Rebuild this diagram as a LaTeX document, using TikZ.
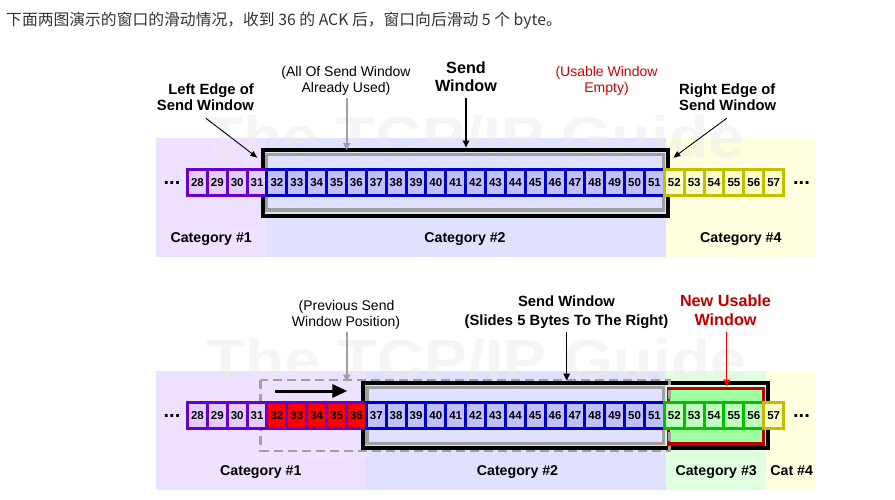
\documentclass[tikz,border=0pt]{standalone}
\usepackage{fontspec}
\setmainfont{Liberation Sans}
\newfontfamily\cjkfont{Noto Sans CJK SC}
\usetikzlibrary{arrows.meta}
\definecolor{purB}{HTML}{6600CC}
\definecolor{purF}{HTML}{E3CCFF}
\definecolor{bluB}{HTML}{0000C8}
\definecolor{bluF}{HTML}{C0C0FF}
\definecolor{yelB}{HTML}{C0C000}
\definecolor{yelF}{HTML}{FFFFCC}
\definecolor{grnB}{HTML}{00C000}
\definecolor{grnF}{HTML}{C0FFC0}
\definecolor{grnW}{HTML}{A0FFA0}
\definecolor{redF}{HTML}{FF0000}
\definecolor{purBg}{HTML}{EEE0FF}
\definecolor{bluBg}{HTML}{E0E0FF}
\definecolor{yelBg}{HTML}{FFFFE0}
\definecolor{grnBg}{HTML}{E0FFE0}
\definecolor{winR}{HTML}{C00000}
\definecolor{noteR}{HTML}{CC0000}
\definecolor{grayL}{HTML}{A0A0A0}
\definecolor{txtC}{HTML}{333333}
\begin{document}
\begin{tikzpicture}[x=1pt,y=-1pt,
  cell/.style={draw, line width=3pt, minimum width=19.87pt, minimum height=26pt, inner sep=0pt, text=black, font=\fontsize{11.5}{12}\selectfont\bfseries},
  purc/.style={cell, draw=purB, fill=purF},
  redc/.style={cell, draw=purB, fill=redF},
  bluc/.style={cell, draw=bluB, fill=bluF},
  grnc/.style={cell, draw=grnB, fill=grnF},
  yelc/.style={cell, draw=yelB, fill=yelF},
  dots/.style={inner sep=0pt, font=\fontsize{20}{20}\selectfont\bfseries},
  boldlbl/.style={anchor=base, inner sep=0pt, font=\fontsize{14.8}{16}\selectfont\bfseries},
  biglbl/.style={anchor=base, inner sep=0pt, font=\fontsize{16.2}{18}\selectfont\bfseries},
  notelbl/.style={anchor=base, inner sep=0pt, font=\fontsize{14}{16}\selectfont},
  catlbl/.style={anchor=base, inner sep=0pt, font=\fontsize{14.2}{16}\selectfont\bfseries},
  wm/.style={anchor=base west, inner sep=0pt, text=black!8, opacity=0.5, font=\fontsize{58}{58}\selectfont\bfseries},
  thinarr/.style={-{Triangle[length=7pt,width=5.5pt]}, line width=0.9pt},
  vertarr/.style={-{Triangle[length=7pt,width=6.5pt]}, line width=1.4pt},
  grayarr/.style={-{Triangle[length=7pt,width=7pt]}, line width=2pt, draw=grayL},
]
\useasboundingbox (0,0) rectangle (895,499);
% header text
\node[anchor=base west, inner sep=0pt, text=txtC, font=\cjkfont\fontsize{15.8}{18}\selectfont] (title) at (6,25) {下面两图演示的窗口的滑动情况，收到 36 的 ACK 后，窗口向后滑动 5 个 byte。};

% ===== TOP DIAGRAM =====
\fill[purBg] (156,138) rectangle (266,257);
\fill[bluBg] (266,138) rectangle (665.5,257);
\fill[yelBg] (665.5,138) rectangle (815,257);
\node[wm] (wm1) at (204,157) {\scalebox{1.11}[1]{The TCP/IP Guide}};
\draw[grayL, line width=3.3pt] (266.7,154.3) rectangle (663.3,210);
\draw[black, line width=4pt] (262.5,149.5) rectangle (668,216);
\foreach \n in {28,...,31} \node[purc] (t\n) at ({197.43+19.87*(\n-28)},182.8) {\n};
\foreach \n in {32,...,51} \node[bluc] (t\n) at ({197.43+19.87*(\n-28)},182.8) {\n};
\foreach \n in {52,...,57} \node[yelc] (t\n) at ({197.43+19.87*(\n-28)},182.8) {\n};
\node[dots] (tdl) at (172,183) {...};
\node[dots] (tdr) at (801.5,183) {...};

\node[boldlbl, anchor=base east] (l1) at (254,94) {Left Edge of};
\node[boldlbl, anchor=base east] (l2) at (254,110.5) {Send Window};
\node[notelbl] (a1) at (346,76) {(All Of Send Window};
\node[notelbl] (a2) at (346,92) {Already Used)};
\node[biglbl] (s1) at (466,73.3) {Send};
\node[biglbl] (s2) at (466,91.7) {Window};
\node[notelbl, text=noteR] (u1) at (606.5,76.5) {(Usable Window};
\node[notelbl, text=noteR] (u2) at (606.5,92.3) {Empty)};
\node[boldlbl, anchor=base west] (r1) at (679,94) {Right Edge of};
\node[boldlbl, anchor=base west] (r2) at (679,110.5) {Send Window};

\node[catlbl] (c1) at (211.2,242) {Category \#1};
\node[catlbl] (c2) at (465,242) {Category \#2};
\node[catlbl] (c4) at (740.8,242) {Category \#4};

\coordinate (la) at (206,118.3);
\coordinate (lb) at (257.3,157.7);
\coordinate (ga) at (346.7,98);
\coordinate (gb) at (346.7,150);
\coordinate (sa) at (466,98);
\coordinate (sb) at (466,147.5);
\coordinate (ra) at (726.7,118.3);
\coordinate (rb) at (673.3,157.7);
\draw[thinarr] (la) -- (lb);
\draw[grayarr] (ga) -- (gb);
\draw[vertarr] (sa) -- (sb);
\draw[thinarr] (ra) -- (rb);

% ===== BOTTOM DIAGRAM =====
\fill[purBg] (156,371) rectangle (366,490);
\fill[bluBg] (366,371) rectangle (666,490);
\fill[grnBg] (666,371) rectangle (766,490);
\fill[yelBg] (766,371) rectangle (815,490);
\node[wm] (wm2) at (206,380) {\scalebox{1.11}[1]{The TCP/IP Guide}};
\draw[winR, fill=grnW, line width=3.5pt] (668.7,388.3) rectangle (763.3,443.8);
\draw[grayL, line width=3.3pt] (367,387.5) rectangle (663.7,443.8);
\draw[black, line width=4pt] (362.8,382.5) rectangle (767.5,448.3);
\draw[grayL, line width=2.2pt, dash pattern=on 9pt off 5pt] (260.5,380.3) rectangle (669.5,451.2);
\coordinate (ma) at (275,391);
\coordinate (mb) at (347.3,391);
\draw[line width=3pt, -{Triangle[length=15pt,width=13pt]}] (ma) -- (mb);
\foreach \n in {28,...,31} \node[purc] (b\n) at ({197.43+19.87*(\n-28)},415.5) {\n};
\foreach \n in {32,...,36} \node[redc] (b\n) at ({197.43+19.87*(\n-28)},415.5) {\n};
\foreach \n in {37,...,51} \node[bluc] (b\n) at ({197.43+19.87*(\n-28)},415.5) {\n};
\foreach \n in {52,...,56} \node[grnc] (b\n) at ({197.43+19.87*(\n-28)},415.5) {\n};
\foreach \n in {57} \node[yelc] (b\n) at ({197.43+19.87*(\n-28)},415.5) {\n};
\node[dots] (bdl) at (172,416) {...};
\node[dots] (bdr) at (801.5,416) {...};

\node[notelbl] (p1) at (346.5,310) {(Previous Send};
\node[notelbl] (p2) at (346,326) {Window Position)};
\node[boldlbl] (w1) at (566.5,306.7) {Send Window};
\node[boldlbl] (w2) at (566.5,325) {(Slides 5 Bytes To The Right)};
\node[biglbl, text=winR] (n1) at (725.5,306.7) {New Usable};
\node[biglbl, text=winR] (n2) at (725.5,325) {Window};

\node[catlbl] (d1) at (260.8,475) {Category \#1};
\node[catlbl] (d2) at (517.5,475) {Category \#2};
\node[catlbl] (d3) at (716.2,475) {Category \#3};
\node[catlbl] (d4) at (791.7,475) {Cat \#4};

\coordinate (pa) at (346.7,331.7);
\coordinate (pb) at (346.7,381.7);
\coordinate (wa) at (566.7,331.7);
\coordinate (wb) at (566.7,380.5);
\coordinate (na) at (726.7,331.7);
\coordinate (nb) at (726.7,386.5);
\draw[grayarr] (pa) -- (pb);
\draw[vertarr] (wa) -- (wb);
\draw[vertarr, draw=red, fill=red] (na) -- (nb);
\end{tikzpicture}
\end{document}
